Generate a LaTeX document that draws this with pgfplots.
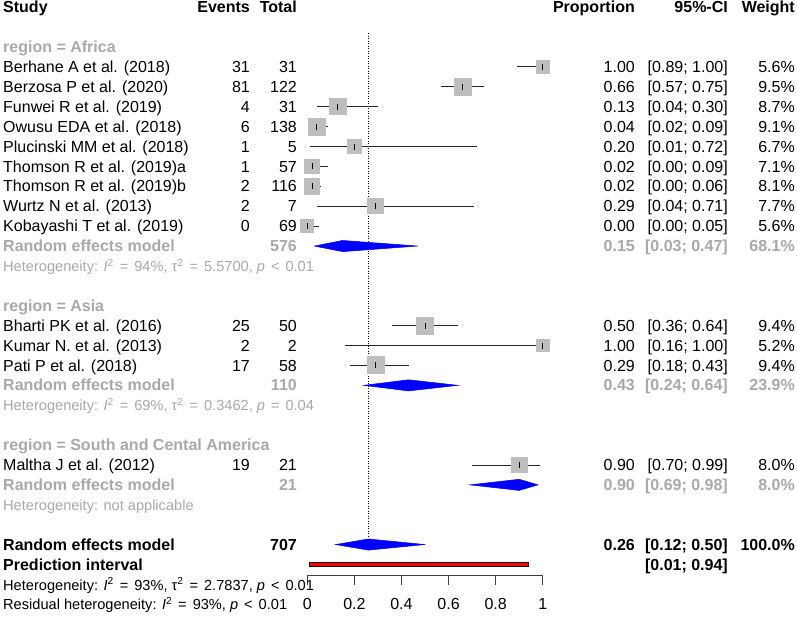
\documentclass[border=0pt]{standalone}
\usepackage{pgfplots}
\usepackage{pgfplotstable}
\pgfplotsset{compat=1.18}
\usepackage{fontspec}
\setmainfont{Liberation Sans}
\definecolor{txtgray}{HTML}{A9A9A9}
\definecolor{sqgray}{HTML}{BEBEBE}
\newcommand\fs{\fontsize{16}{19}\selectfont}
\newcommand\fsh{\fontsize{14.6}{17}\selectfont}
\newcommand\rowsix[7]{%
 \node[anchor=base west] at (3,{603.1-19.9*#1}) {#2};
 \node[anchor=base east] at (250,{603.1-19.9*#1}) {#3};
 \node[anchor=base east] at (297,{603.1-19.9*#1}) {#4};
 \node[anchor=base east] at (635,{603.1-19.9*#1}) {#5};
 \node[anchor=base east] at (728,{603.1-19.9*#1}) {#6};
 \node[anchor=base east] at (795,{603.1-19.9*#1}) {#7};}
\newcommand\leftrow[2]{\node[anchor=base west] at (3,{603.1-19.9*#1}) {#2};}
\newcommand\hetrow[2]{\node[anchor=base west, font=\fsh] at (3,{603.1-19.9*#1}) {#2};}
\newcommand\het{Heterogeneity: }
\newcommand\op[1]{\hspace{6pt}#1\hspace{6pt}}
\pgfplotstableread{
r p lo hi ep em w ms
-3 1.00 0.89 1.00 0.00 0.11 5.6 6.6
-4 0.66 0.57 0.75 0.09 0.09 9.5 8.6
-5 0.13 0.04 0.30 0.17 0.09 8.7 8.2
-6 0.04 0.02 0.09 0.05 0.02 9.1 8.4
-7 0.20 0.01 0.72 0.52 0.19 6.7 7.2
-8 0.02 0.00 0.09 0.07 0.02 7.1 7.4
-9 0.02 0.00 0.06 0.04 0.02 8.1 7.9
-10 0.29 0.04 0.71 0.42 0.25 7.7 7.7
-11 0.00 0.00 0.05 0.05 0.00 5.6 6.6
-16 0.50 0.36 0.64 0.14 0.14 9.4 8.5
-17 1.00 0.16 1.00 0.00 0.84 5.2 6.4
-18 0.29 0.18 0.43 0.14 0.11 9.4 8.5
-23 0.90 0.70 0.99 0.09 0.20 8.0 7.9
}\studies
\begin{document}
\begin{tikzpicture}
\useasboundingbox (0,0) rectangle (797pt,616pt);
\begin{axis}[
  at={(307.3pt,41pt)}, anchor=south west,
  x=235.4pt, y=19.9pt,
  xmin=0, xmax=1, ymin=-28.53, ymax=0.3,
  axis x line*=bottom, axis y line=none,
  xtick={0,0.2,0.4,0.6,0.8,1}, xticklabels={0,0.2,0.4,0.6,0.8,1},
  xtick align=outside, major tick length=10pt,
  ytick=\empty,
  clip=false,
  axis line style={line width=0.9pt, color=black!75},
  every tick/.style={line width=0.9pt, color=black!75},
  xticklabel style={font=\fs, anchor=base, inner sep=0pt, yshift=-24.9pt},
]
% dotted reference line at overall estimate
\addplot[black, line width=0.8pt, dash pattern=on 0.9pt off 1.6pt] coordinates {(0.26,-1.3) (0.26,-26.67)};
% study squares
\addplot[color=sqgray, scatter, only marks, mark=square*,
  mark options={draw=sqgray, fill=sqgray, line width=0pt},
  scatter/use mapped color={draw=sqgray, fill=sqgray},
  visualization depends on={\thisrow{ms} \as \msz},
  scatter/@pre marker code/.append style={/tikz/mark size=\msz pt}]
  table[x=p,y=r]{\studies};
% confidence intervals and estimates
\addplot[only marks, mark=|, mark size=3pt, mark options={line width=0.9pt, black},
  error bars/.cd, x dir=both, x explicit, error mark=none,
  error bar style={line width=0.9pt, black!85}]
  table[x=p,y=r,x error plus=ep,x error minus=em]{\studies};
% diamonds
\addplot[fill=blue, draw=blue, line width=0.5pt] coordinates {(0.03,-12) (0.15,-11.72) (0.47,-12) (0.15,-12.28)} --cycle;
\addplot[fill=blue, draw=blue, line width=0.5pt] coordinates {(0.24,-19) (0.43,-18.72) (0.64,-19) (0.43,-19.28)} --cycle;
\addplot[fill=blue, draw=blue, line width=0.5pt] coordinates {(0.69,-24) (0.90,-23.72) (0.98,-24) (0.90,-24.28)} --cycle;
\addplot[fill=blue, draw=blue, line width=0.5pt] coordinates {(0.12,-27) (0.26,-26.72) (0.50,-27) (0.26,-27.28)} --cycle;
% prediction interval
\addplot[fill=red, draw=black, line width=0.8pt] coordinates {(0.01,-27.89) (0.94,-27.89) (0.94,-28.11) (0.01,-28.11)} --cycle;
\end{axis}
\begin{scope}[x=1pt,y=1pt, every node/.style={inner sep=0pt, font=\fs}]
\begin{scope}[every node/.append style={font=\fs\bfseries}]
\rowsix{0}{Study}{Events}{Total}{Proportion}{95\%-CI}{Weight}
\end{scope}
\begin{scope}[every node/.append style={font=\fs\bfseries, text=txtgray}]
\leftrow{2}{region = Africa}
\leftrow{15}{region = Asia}
\leftrow{22}{region = South and Cental America}
\rowsix{12}{Random effects model}{}{576}{0.15}{[0.03; 0.47]}{68.1\%}
\rowsix{19}{Random effects model}{}{110}{0.43}{[0.24; 0.64]}{23.9\%}
\rowsix{24}{Random effects model}{}{21}{0.90}{[0.69; 0.98]}{8.0\%}
\end{scope}
\rowsix{3}{Berhane A et al. (2018)}{31}{31}{1.00}{[0.89; 1.00]}{5.6\%}
\rowsix{4}{Berzosa P et al. (2020)}{81}{122}{0.66}{[0.57; 0.75]}{9.5\%}
\rowsix{5}{Funwei R et al. (2019)}{4}{31}{0.13}{[0.04; 0.30]}{8.7\%}
\rowsix{6}{Owusu EDA et al. (2018)}{6}{138}{0.04}{[0.02; 0.09]}{9.1\%}
\rowsix{7}{Plucinski MM et al. (2018)}{1}{5}{0.20}{[0.01; 0.72]}{6.7\%}
\rowsix{8}{Thomson R et al. (2019)a}{1}{57}{0.02}{[0.00; 0.09]}{7.1\%}
\rowsix{9}{Thomson R et al. (2019)b}{2}{116}{0.02}{[0.00; 0.06]}{8.1\%}
\rowsix{10}{Wurtz N et al. (2013)}{2}{7}{0.29}{[0.04; 0.71]}{7.7\%}
\rowsix{11}{Kobayashi T et al. (2019)}{0}{69}{0.00}{[0.00; 0.05]}{5.6\%}
\rowsix{16}{Bharti PK et al. (2016)}{25}{50}{0.50}{[0.36; 0.64]}{9.4\%}
\rowsix{17}{Kumar N. et al. (2013)}{2}{2}{1.00}{[0.16; 1.00]}{5.2\%}
\rowsix{18}{Pati P et al. (2018)}{17}{58}{0.29}{[0.18; 0.43]}{9.4\%}
\rowsix{23}{Maltha J et al. (2012)}{19}{21}{0.90}{[0.70; 0.99]}{8.0\%}
\begin{scope}[every node/.append style={text=txtgray}]
\hetrow{13}{\het\textit{I}\textsuperscript{2}\op{=}94\%, τ\textsuperscript{2}\op{=}5.5700, \textit{p}\op{<}0.01}
\hetrow{20}{\het\textit{I}\textsuperscript{2}\op{=}69\%, τ\textsuperscript{2}\op{=}0.3462, \textit{p}\op{=}0.04}
\hetrow{25}{\het not applicable}
\end{scope}
\begin{scope}[every node/.append style={font=\fs\bfseries}]
\rowsix{27}{Random effects model}{}{707}{0.26}{[0.12; 0.50]}{100.0\%}
\rowsix{28}{Prediction interval}{}{}{}{[0.01; 0.94]}{}
\end{scope}
\hetrow{29}{\het\textit{I}\textsuperscript{2}\op{=}93\%, τ\textsuperscript{2}\op{=}2.7837, \textit{p}\op{<}0.01}
\hetrow{30}{Residual heterogeneity: \textit{I}\textsuperscript{2}\op{=}93\%, \textit{p}\op{<}0.01}
\end{scope}
\end{tikzpicture}
\end{document}
